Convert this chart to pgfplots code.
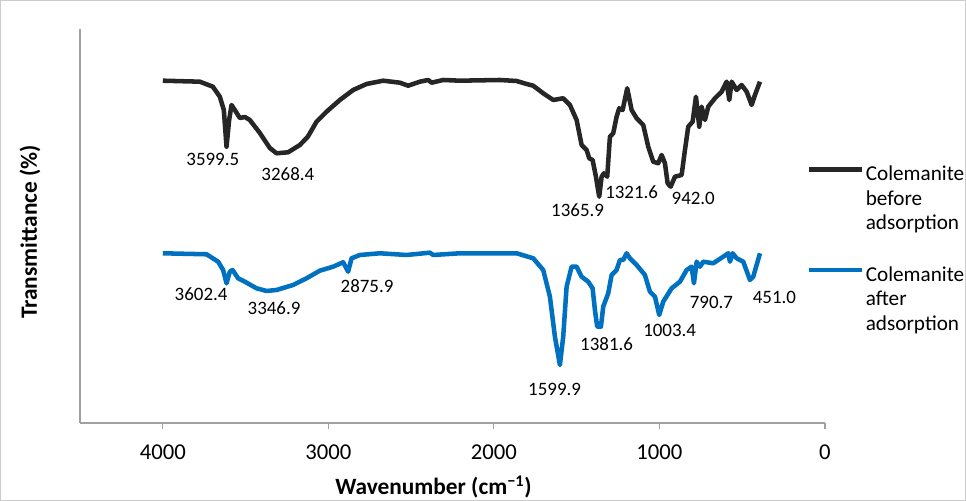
\documentclass[border=0pt]{standalone}
\usepackage{fontspec}
\setmainfont{Carlito}
\usepackage{pgfplots}
\pgfplotsset{compat=1.18}
\definecolor{blk}{RGB}{38,38,38}
\definecolor{blu}{RGB}{0,112,192}
\definecolor{axgray}{RGB}{160,160,160}
\begin{document}
\begin{tikzpicture}
\begin{axis}[
  scale only axis, width=558.75pt, height=295.5pt,
  xmin=0, xmax=4500, ymin=0, ymax=394, x dir=reverse,
  axis x line*=bottom, axis y line*=left,
  axis line style={axgray, line width=0.8pt, -},
  xtick={0,1000,2000,3000,4000}, ytick=\empty,
  tick align=outside, major tick length=4.5pt,
  tick style={axgray, line width=0.8pt},
  /pgf/number format/assume math mode=true,
  /pgf/number format/set thousands separator={},
  xticklabel style={font=\fontsize{17}{20}\selectfont, yshift=-8pt},
  xlabel={\textbf{Wavenumber (cm\textsuperscript{−1})}},
  ylabel={\textbf{Transmittance (\%)}},
  xlabel style={font=\fontsize{17.5}{20}\selectfont, at={(axis description cs:0.4745,-0.0)}, anchor=center, yshift=-48pt},
  ylabel style={font=\fontsize{17.5}{20}\selectfont, at={(axis description cs:-0.067,0.485)}, anchor=center, rotate=0},
  clip=false,
  legend style={at={(axis description cs:0.975,0.657)}, anchor=north west, draw=none, fill=none,
    font=\fontsize{15.9}{18.5}\selectfont, row sep=61pt, inner sep=0pt,
    nodes={inner sep=1pt}},
  legend cell align=left,
  legend image code/.code={\draw[#1] (0pt,0.35em) -- (40pt,0.35em);},
]
\addplot[blk, line width=3.4pt, line join=round] coordinates {
(4000,342.3)(3776,341.3)(3697.7,336.3)(3655.4,326.3)(3631.2,313)(3614.9,276.3)(3599.2,303)
(3584.7,318)(3564.8,313)(3534.6,305)(3504.4,306)(3474.2,303)(3413.7,290)(3353.3,275)
(3312.8,269.7)(3242.7,270.7)(3172,278)(3123.7,286.3)(3071.1,301.3)(3010.7,311.3)(2930.4,323)
(2850,333)(2769,339)(2668.7,342.3)(2567.9,340.3)(2517.7,337.3)(2447,341.3)(2396.9,343)
(2376.3,340.3)(2306.2,343)(2205.3,342.3)(1963.7,343)(1862.8,342)(1802.3,339)(1762.5,337.3)
(1702,329.7)(1641.6,323)(1581.2,324.7)(1540.7,318)(1500.2,303)(1470,278)(1439.8,273)
(1424.1,264.7)(1403.6,263)(1383.6,246.3)(1363.7,226.3)(1349.2,246.3)(1335.3,249.7)(1315.3,246.3)
(1299,286.3)(1279.1,289.7)(1258.6,306.3)(1242.8,314.7)(1222.3,313)(1194.5,334.7)(1167.9,313)
(1137.7,304.7)(1097.8,298)(1067.6,276.3)(1037.4,261.3)(1007.2,259.7)(986.7,268)(966.7,259.7)
(950.4,239.7)(932.3,236.3)(906.3,246.3)(865.8,248)(845.9,273)(825.9,296.3)(799.4,301.3)
(779.4,326.3)(759.5,296.3)(745,316.3)(725,303)(705.1,316.3)(664.6,324.7)(624.1,331.3)
(593.9,341.3)(578.2,323)(563.7,341.3)(533.5,333)(503.3,338)(473.1,331.3)(442.9,318)
(422.9,328)(392.7,341.3)
};
\addlegendentry{\parbox[t]{80pt}{Colemanite\\before\\adsorption}}
\addplot[blu, line width=3.4pt, line join=round] coordinates {
(4000,169.7)(3735.8,168.7)(3665.7,161.3)(3635.5,153)(3614.9,139.7)(3595,151.3)(3578.7,153)
(3544.8,144.7)(3504.4,141.3)(3433.7,134.7)(3373.2,132)(3312.8,133)(3212.5,138)(3131.6,144.7)
(3051.2,152.3)(2970.9,156.3)(2910.4,160.7)(2880.2,151.3)(2859.7,164.7)(2809.5,168)(2688.7,169.7)
(2527.4,168)(2386.6,170.3)(2366.6,168)(2205.3,169.7)(1862.8,169.7)(1762.5,164.7)(1702,153)
(1661.6,126.3)(1631.3,86.3)(1601.1,58)(1581.2,86.3)(1560.7,136.3)(1530.4,156.3)(1500.2,156.3)
(1470,146.3)(1430.1,141.3)(1403.6,134.7)(1389.7,113)(1375.8,96.3)(1353.4,96.3)(1339.5,116.3)
(1309.3,129.7)(1288.8,148)(1258.6,153)(1238.6,163)(1218.7,163)(1198.1,169.7)(1178.2,164.7)
(1137.7,158)(1087.6,148)(1057.4,131.3)(1027.1,126.3)(1001.2,108)(977,121.3)(926.2,134.7)
(876.1,141.3)(835.6,153)(805.4,156.3)(791.5,139.7)(775.2,161.3)(755.3,156.3)(735.3,161.3)
(674.9,159.7)(614.5,166.3)(584.3,169.7)(574,161.3)(557.7,169.7)(533.5,164.7)(493.6,161.3)
(453.2,143)(433.2,146.3)(392.7,169.7)
};
\addlegendentry{\parbox[t]{80pt}{Colemanite\\after\\adsorption}}
\begin{scope}[every node/.style={font=\fontsize{14.2}{16}\selectfont, text=black, inner sep=0pt}]
\node at (axis cs:3697.7,264) {3599.5};
\node at (axis cs:3244.6,248.5) {3268.4};
\node at (axis cs:1494.2,213) {1365.9};
\node at (axis cs:1167.9,230.5) {1321.6};
\node at (axis cs:795.7,224.7) {942.0};
\node at (axis cs:3768.4,128.5) {3602.4};
\node at (axis cs:3327.9,114.7) {3346.9};
\node at (axis cs:2766.1,136.7) {2875.9};
\node at (axis cs:1633.2,33.3) {1599.9};
\node at (axis cs:1319,78.5) {1381.6};
\node at (axis cs:938.3,93) {1003.4};
\node at (axis cs:685.8,120.8) {790.7};
\node at (axis cs:305.1,125.2) {451.0};
\end{scope}
\coordinate (FSW) at (axis description cs:-0.1074,-0.198);
\coordinate (FNE) at (axis description cs:1.1893,1.0736);
\end{axis}
\pgfresetboundingbox
\path[use as bounding box] (FSW) rectangle (FNE);
\draw[gray!40, line width=0.75pt] ([shift={(0.4pt,0.4pt)}]FSW) rectangle ([shift={(-0.4pt,-0.4pt)}]FNE);
\end{tikzpicture}
\end{document}
